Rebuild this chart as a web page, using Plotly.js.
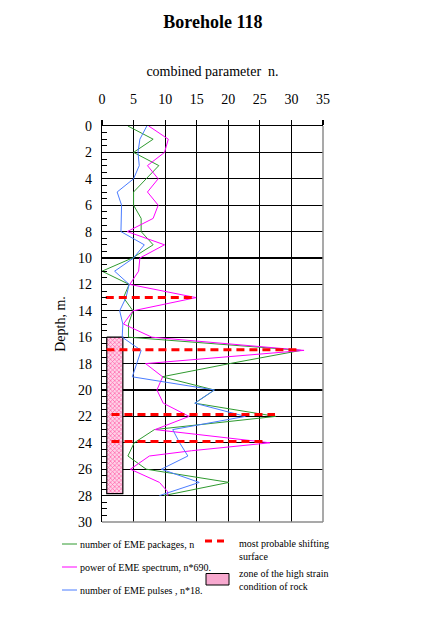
<!DOCTYPE html>
<html>
<head>
<meta charset="utf-8">
<script src="https://cdn.plot.ly/plotly-3.0.1.min.js"></script>
<style>html,body{margin:0;padding:0;background:#fff;}#chart{width:440px;height:633px;}</style>
</head>
<body>
<div id="chart"></div>
<script>
// ---- data ----
const packagesDepth = [0,1,2,3,4,5,6,7,8,9,10,11,12,13,14,15,16,17,18,19,20,21,22,23,24,25,26,27,28];
const packagesValue = [4.1,8.1,5.0,9.0,7.0,5.0,5.0,6.2,6.2,8.1,4.8,0.0,4.3,3.4,4.9,4.2,4.2,31.5,20.2,9.5,17.8,14.7,27.5,8.3,5.1,4.1,7.0,20.1,9.8];

const powerDepth = [0,1,2,3,4,5,6,7,8,9,10,11,12,13,14,15,16,17,18,19,20,21,22,23,24,24.6,25,26,27,27.7,28];
const powerValue = [7.4,10.5,9.9,7.2,8.9,7.2,8.9,8.1,4.0,9.9,6.0,5.8,4.4,14.9,4.9,3.4,7.9,32.0,6.9,9.6,8.7,9.7,13.8,8.4,26.6,14.2,7.5,4.5,9.1,10.4,10.4];

const pulsesDepth = [0,1,2,3,4,5,6,7,8,9,10,11,12,13,14,15,16,17,18,19,20,21,22,23,24,25,26,27,28];
const pulsesValue = [7.1,6.0,5.7,5.9,5.0,2.4,3.1,3.1,3.0,6.7,5.0,2.0,4.3,3.8,2.8,3.3,3.2,6.2,5.5,4.8,17.8,14.7,22.7,11.2,12.3,13.6,9.4,15.4,9.1];

const shiftDepth = [13, 16.95, 21.85, 23.9];
const shiftFrom  = [0.6, 0.7, 1.5, 1.5];
const shiftTo    = [14.9, 31.5, 27.4, 25.8];

const zoneFrom = 0.75, zoneTo = 3.3;
const zoneTop = 16, zoneBottom = 27.85;

const xTicks = [0,5,10,15,20,25,30,35];
const yTicks = [0,2,4,6,8,10,12,14,16,18,20,22,24,26,28,30];

const names = {
  packages: 'number of EME packages, n',
  power: 'power of EME spectrum, n*690.',
  pulses: 'number of EME pulses , n*18.',
  shift: 'most probable shifting<br>surface',
  zone: 'zone of the high strain<br>condition of rock'
};

const colGreen = '#2f9a2f', colMag = '#ff00ff', colBlue = '#4a7cff', colRed = '#ff0000';
const serif = 'Liberation Serif, Times New Roman, serif';

// ---- traces ----
const traces = [];
traces.push({
  type:'scatter', mode:'lines', name:names.zone, showlegend:false,
  x:[zoneFrom, zoneTo, zoneTo, zoneFrom, zoneFrom],
  y:[zoneTop, zoneTop, zoneBottom, zoneBottom, zoneTop],
  fill:'toself', fillcolor:'rgba(0,0,0,0)',
  fillpattern:{shape:'x', fgcolor:'#ff5fa8', bgcolor:'#ffd3e8', size:3, solidity:0.4},
  line:{color:'#000', width:1.2}
});
traces.push({type:'scatter', mode:'lines', name:names.packages, showlegend:false,
  x:packagesValue, y:packagesDepth, line:{color:colGreen, width:1}});
traces.push({type:'scatter', mode:'lines', name:names.power, showlegend:false,
  x:powerValue, y:powerDepth, line:{color:colMag, width:1}});
traces.push({type:'scatter', mode:'lines', name:names.pulses, showlegend:false,
  x:pulsesValue, y:pulsesDepth, line:{color:colBlue, width:1}});
shiftDepth.forEach((d,i)=>{
  traces.push({type:'scatter', mode:'lines', name:names.shift, showlegend:false,
    x:[shiftFrom[i], shiftTo[i]], y:[d,d], line:{color:colRed, width:3, dash:'8px,5px'}});
});

// ---- legend (drawn with annotations + sample glyphs in paper coords) ----
const W=440, H=633, ML=102, MR=117, MT=126, MB=111;
const pw=W-ML-MR, ph=H-MT-MB;
const px = v => (v-ML)/pw;          // page px -> paper x
const py = v => (H-MB-v)/ph;        // page px -> paper y

const shapes = [
  {type:'line', xref:'paper', yref:'paper', x0:1, x1:1, y0:0, y1:1, line:{color:'#8c8c8c', width:1.5}, layer:'above'},
  {type:'line', xref:'paper', yref:'paper', x0:0, x1:1, y0:0, y1:0, line:{color:'#8c8c8c', width:1.5}, layer:'above'},
  {type:'line', xref:'paper', yref:'paper', x0:px(62), x1:px(77), y0:py(544), y1:py(544), line:{color:colGreen, width:1}},
  {type:'line', xref:'paper', yref:'paper', x0:px(62), x1:px(77), y0:py(567), y1:py(567), line:{color:colMag, width:1}},
  {type:'line', xref:'paper', yref:'paper', x0:px(62), x1:px(77), y0:py(590), y1:py(590), line:{color:colBlue, width:1}},
  {type:'line', xref:'paper', yref:'paper', x0:px(205), x1:px(226), y0:py(541), y1:py(541), line:{color:colRed, width:3, dash:'7px,5px'}},
  {type:'rect', xref:'paper', yref:'paper', x0:px(206), x1:px(229), y0:py(573.5), y1:py(585), line:{color:'#000', width:1}, fillcolor:'#f7a9cf'}
];

const legFont = {family:serif, size:10, color:'#000'};
const annotations = [
  {text:names.packages, xref:'paper', yref:'paper', x:px(78), y:py(544), xanchor:'left', yanchor:'middle', showarrow:false, font:legFont},
  {text:names.power, xref:'paper', yref:'paper', x:px(78), y:py(567), xanchor:'left', yanchor:'middle', showarrow:false, font:legFont},
  {text:names.pulses, xref:'paper', yref:'paper', x:px(78), y:py(590), xanchor:'left', yanchor:'middle', showarrow:false, font:legFont},
  {text:names.shift, xref:'paper', yref:'paper', x:px(237), y:py(549.5), xanchor:'left', yanchor:'middle', align:'left', showarrow:false, font:legFont},
  {text:names.zone, xref:'paper', yref:'paper', x:px(237), y:py(580), xanchor:'left', yanchor:'middle', align:'left', showarrow:false, font:legFont}
];

const layout = {
  width:W, height:H,
  margin:{l:ML, r:MR, t:MT, b:MB, pad:0},
  paper_bgcolor:'#fff', plot_bgcolor:'#fff',
  showlegend:false,
  title:{text:'<b>Borehole 118</b>', font:{family:serif, size:18, color:'#000'},
         x:0.484, xanchor:'center', y:1-22/H, yanchor:'middle', xref:'container', yref:'container'},
  xaxis:{
    side:'top', range:[0,35], tickvals:xTicks, ticktext:xTicks.map(String),
    showgrid:true, gridcolor:'#000', gridwidth:1.2,
    showline:true, linecolor:'#000', linewidth:1.2, zeroline:false,
    ticks:'outside', ticklen:5, tickcolor:'#000', tickwidth:1.2,
    ticklabelstandoff:10,
    tickfont:{family:serif, size:14, color:'#000'},
    title:{text:'combined parameter  n.', font:{family:serif, size:14, color:'#000'}, standoff:12},
    fixedrange:true
  },
  yaxis:{
    range:[30,0], tickvals:yTicks, ticktext:yTicks.map(String),
    showgrid:true, gridcolor:'#000', gridwidth:1.2,
    showline:true, linecolor:'#000', linewidth:1.2, zeroline:false,
    ticks:'inside', ticklen:5, tickcolor:'#000', tickwidth:1,
    minor:{dtick:0.5, tick0:0, ticks:'inside', ticklen:5, tickcolor:'#000', tickwidth:1, showgrid:false},
    ticklabelstandoff:6,
    tickfont:{family:serif, size:14, color:'#000'},
    title:{text:'Depth, m.', font:{family:serif, size:14, color:'#000'}, standoff:9},
    fixedrange:true
  },
  shapes:shapes,
  annotations:annotations
};

Plotly.newPlot('chart', traces, layout, {displayModeBar:false, staticPlot:true});
</script>
</body>
</html>
